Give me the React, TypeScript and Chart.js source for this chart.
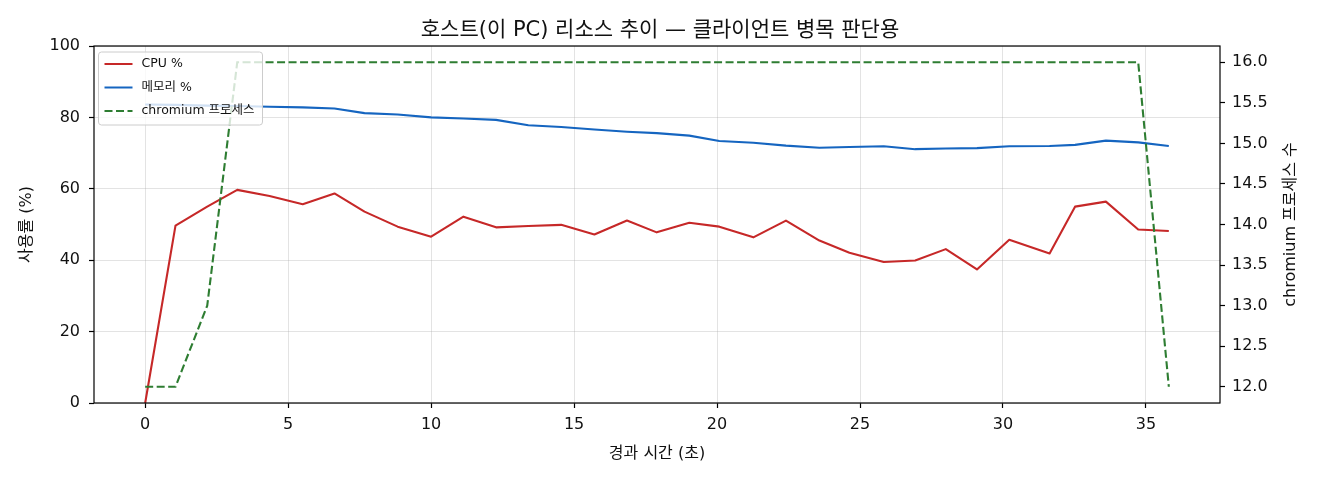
import React, { useEffect, useRef } from 'react';
import { Chart, registerables, Plugin } from 'chart.js';
Chart.register(...registerables);

// sample times (s) and the three series
const TIME = [0, 1.06, 2.17, 3.22, 4.35, 5.51, 6.62, 7.67, 8.83, 10.0, 11.13, 12.27, 13.4, 14.55, 15.71, 16.85, 17.89, 19.03, 20.08, 21.27, 22.41, 23.58, 24.63, 25.83, 26.93, 28.0, 29.09, 30.22, 31.63, 32.52, 33.6, 34.73, 35.8];
const CPU = [0, 49.7, 55.0, 59.7, 58.0, 55.7, 58.7, 53.6, 49.4, 46.6, 52.2, 49.2, 49.6, 49.9, 47.2, 51.1, 47.8, 50.5, 49.4, 46.4, 51.1, 45.5, 42.1, 39.5, 39.9, 43.1, 37.4, 45.7, 41.9, 55.0, 56.4, 48.6, 48.2];
const MEM = [83.6, 83.5, 83.3, 83.2, 83.0, 82.8, 82.5, 81.2, 80.8, 80.0, 79.7, 79.3, 77.8, 77.3, 76.6, 76.0, 75.6, 74.9, 73.4, 72.9, 72.1, 71.5, 71.7, 71.9, 71.1, 71.3, 71.4, 71.9, 72.0, 72.3, 73.5, 73.0, 72.0];
const PROC = [12, 12, 13, 16, 16, 16, 16, 16, 16, 16, 16, 16, 16, 16, 16, 16, 16, 16, 16, 16, 16, 16, 16, 16, 16, 16, 16, 16, 16, 16, 16, 16, 12];

const X_TICKS = [0, 5, 10, 15, 20, 25, 30, 35];
const Y_TICKS = [0, 20, 40, 60, 80, 100];
const R_TICKS = [12, 12.5, 13, 13.5, 14, 14.5, 15, 15.5, 16];

const TITLE = '호스트(이 PC) 리소스 추이 — 클라이언트 병목 판단용';
const X_LABEL = '경과 시간 (초)';
const Y_LABEL = '사용률 (%)';
const R_LABEL = 'chromium 프로세스 수';

const LEGEND = [
  { label: 'CPU %', color: '#c62828', dash: [] as number[] },
  { label: '메모리 %', color: '#1565c0', dash: [] as number[] },
  { label: 'chromium 프로세스', color: '#2e7d32', dash: [8, 3.5] },
];

const FONT = '"DejaVu Sans", "Noto Sans CJK KR", sans-serif';
const TEXT = '#111';
const GRID = 'rgba(176,176,176,0.35)';

const span = TIME[TIME.length - 1] - TIME[0];
const X_MIN = TIME[0] - span * 0.05;
const X_MAX = TIME[TIME.length - 1] + span * 0.05;

// frame, right-hand label and the in-plot legend (matplotlib style)
const overlay: Plugin = {
  id: 'overlay',
  afterDraw(chart) {
    const { ctx, chartArea: a } = chart;
    ctx.save();
    ctx.strokeStyle = '#000';
    ctx.lineWidth = 1.2;
    ctx.strokeRect(a.left, a.top, a.right - a.left, a.bottom - a.top);

    ctx.fillStyle = TEXT;
    ctx.font = `16px ${FONT}`;
    ctx.textAlign = 'center';
    ctx.textBaseline = 'middle';
    ctx.translate(1291, (a.top + a.bottom) / 2);
    ctx.rotate(-Math.PI / 2);
    ctx.fillText(R_LABEL, 0, 0);
    ctx.restore();

    ctx.save();
    const bx = a.left + 4.5, by = a.top + 6, bw = 164, bh = 73;
    ctx.beginPath();
    ctx.roundRect(bx, by, bw, bh, 3);
    ctx.fillStyle = 'rgba(255,255,255,0.8)';
    ctx.fill();
    ctx.strokeStyle = '#cccccc';
    ctx.lineWidth = 1;
    ctx.stroke();
    ctx.font = `12.5px ${FONT}`;
    ctx.textAlign = 'left';
    ctx.textBaseline = 'middle';
    LEGEND.forEach((it, i) => {
      const y = by + 12 + i * 23.5;
      ctx.beginPath();
      ctx.setLineDash(it.dash);
      ctx.strokeStyle = it.color;
      ctx.lineWidth = 2;
      ctx.moveTo(bx + 6, y);
      ctx.lineTo(bx + 34, y);
      ctx.stroke();
      ctx.setLineDash([]);
      ctx.fillStyle = TEXT;
      ctx.fillText(it.label, bx + 43, y);
    });
    ctx.restore();
  },
};

const HostResourceChart: React.FC = () => {
  const canvasRef = useRef<HTMLCanvasElement>(null);
  const chartRef = useRef<Chart | null>(null);

  useEffect(() => {
    document.body.style.margin = '0';
    if (!canvasRef.current) return;
    if (chartRef.current) chartRef.current.destroy();

    const pts = (vals: number[]) => TIME.map((t, i) => ({ x: t, y: vals[i] }));

    chartRef.current = new Chart(canvasRef.current, {
      type: 'line',
      data: {
        datasets: [
          { label: 'CPU %', data: pts(CPU), yAxisID: 'y', borderColor: '#c62828', borderWidth: 2.1, pointRadius: 0, tension: 0, order: 3, borderJoinStyle: 'round' },
          { label: '메모리 %', data: pts(MEM), yAxisID: 'y', borderColor: '#1565c0', borderWidth: 2.1, pointRadius: 0, tension: 0, order: 2, borderJoinStyle: 'round' },
          { label: 'chromium 프로세스', data: pts(PROC), yAxisID: 'y2', borderColor: '#2e7d32', borderWidth: 2.1, borderDash: [8, 3.5], pointRadius: 0, tension: 0, order: 1 },
        ],
      },
      options: {
        animation: false,
        responsive: false,
        events: [],
        layout: { padding: 0 },
        font: { family: FONT },
        scales: {
          x: {
            type: 'linear',
            position: 'bottom',
            min: X_MIN,
            max: X_MAX,
            afterBuildTicks: (s) => { s.ticks = X_TICKS.map((v) => ({ value: v })); },
            afterFit: (s) => { s.height = 77; },
            ticks: { color: TEXT, font: { family: FONT, size: 16 }, padding: 7, maxRotation: 0, callback: (v) => String(v) },
            grid: { color: GRID, lineWidth: 1, tickLength: 5, tickColor: '#000', tickWidth: 1.2 },
            border: { display: false },
            title: { display: true, text: X_LABEL, color: TEXT, font: { family: FONT, size: 16 }, padding: { top: 0, bottom: 16.4 } },
          },
          y: {
            type: 'linear',
            position: 'left',
            min: 0,
            max: 100,
            afterBuildTicks: (s) => { s.ticks = Y_TICKS.map((v) => ({ value: v })); },
            afterFit: (s) => { s.width = 94; },
            ticks: { color: TEXT, font: { family: FONT, size: 16 }, padding: 9, callback: (v) => String(v) },
            grid: { color: GRID, lineWidth: 1, tickLength: 5, tickColor: '#000', tickWidth: 1.2 },
            border: { display: false },
            title: { display: true, text: Y_LABEL, color: TEXT, font: { family: FONT, size: 16 }, padding: { top: 17.4, bottom: 0 } },
          },
          y2: {
            type: 'linear',
            position: 'right',
            min: 11.8,
            max: 16.2,
            afterBuildTicks: (s) => { s.ticks = R_TICKS.map((v) => ({ value: v })); },
            afterFit: (s) => { s.width = 100; },
            ticks: { color: TEXT, font: { family: FONT, size: 16 }, padding: 7, callback: (v) => Number(v).toFixed(1) },
            grid: { drawOnChartArea: false, tickLength: 5, tickColor: '#000', tickWidth: 1.2 },
            border: { display: false },
          },
        },
        plugins: {
          legend: { display: false },
          tooltip: { enabled: false },
          title: {
            display: true,
            text: TITLE,
            color: TEXT,
            font: { family: FONT, size: 21, weight: 'normal' },
            padding: { top: 18.4, bottom: 2.4 },
          },
        },
      },
      plugins: [overlay],
    });

    return () => {
      if (chartRef.current) {
        chartRef.current.destroy();
        chartRef.current = null;
      }
    };
  }, []);

  return (
    <div style={{ width: 1320, height: 480, background: '#fff' }}>
      <canvas ref={canvasRef} width={1320} height={480} style={{ width: 1320, height: 480 }}></canvas>
    </div>
  );
};

export default function App() {
  return <HostResourceChart />;
}
